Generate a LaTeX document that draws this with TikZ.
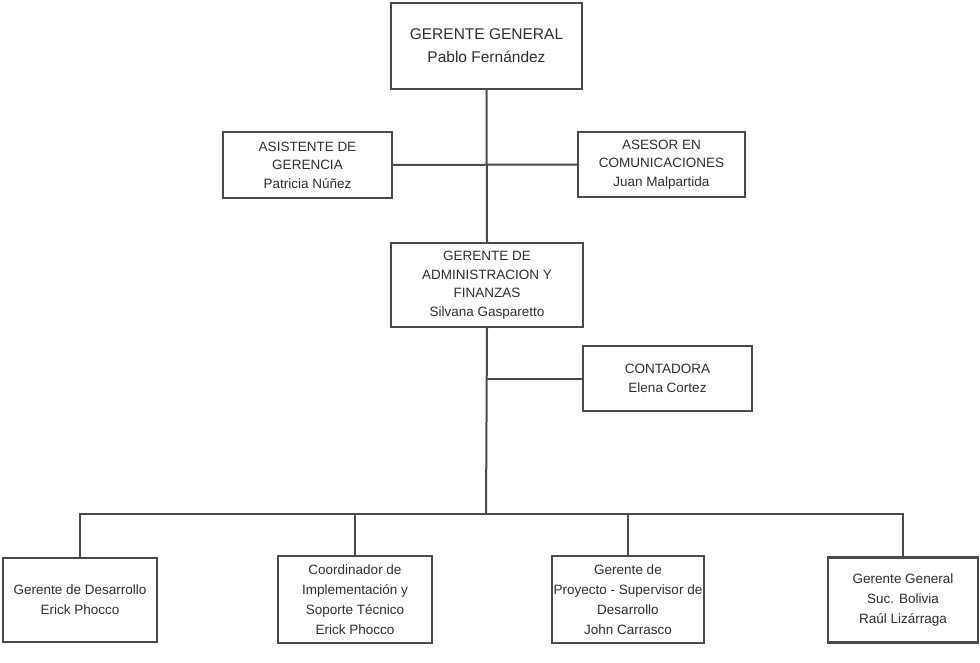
\documentclass[tikz,border=0pt]{standalone}
\usepackage{fontspec}
\setmainfont{Liberation Sans}
\definecolor{ink}{HTML}{2E2E2E}
\definecolor{edge}{HTML}{4A4A4A}
\begin{document}
\begin{tikzpicture}[x=1pt,y=-1pt,
  post/.style={draw=edge, line width=2.1pt, fill=white, rectangle, align=center,
    text=ink, inner sep=0pt, font=\fontsize{13.5}{18.5}\selectfont},
  lowpost/.style={post, font=\fontsize{13.5}{20}\selectfont},
  link/.style={draw=edge, line width=2pt}]
\useasboundingbox (0,0) rectangle (980,663);

% upper levels
\node[post, minimum width=191, minimum height=86, font=\fontsize{15.5}{23}\selectfont]
  (gg) at (486.5,46) {GERENTE GENERAL\\Pablo Fernández};
\node[post, minimum width=169, minimum height=66] (asis) at (307.5,165)
  {ASISTENTE DE\\GERENCIA\\Patricia Núñez};
\node[post, minimum width=167, minimum height=65] (ases) at (661.5,164.5)
  {ASESOR EN\\COMUNICACIONES\\Juan Malpartida};
\node[post, minimum width=192, minimum height=84] (adm) at (487,285)
  {GERENTE DE\\ADMINISTRACION Y\\FINANZAS\\Silvana Gasparetto};
\node[post, minimum width=169, minimum height=65] (cont) at (667.5,378.5)
  {CONTADORA\\Elena Cortez};

% lower level
\node[lowpost, minimum width=154, minimum height=84] (b1) at (80,600)
  {Gerente de Desarrollo\\Erick Phocco};
\node[lowpost, minimum width=154, minimum height=87] (b2) at (355,599.5)
  {Coordinador de\\Implementación y\\Soporte Técnico\\Erick Phocco};
\node[lowpost, minimum width=152, minimum height=87] (b3) at (628,599.5)
  {Gerente de\\Proyecto - Supervisor de\\Desarrollo\\John Carrasco};
\node[lowpost, minimum width=150, minimum height=85] (b4) at (903,600)
  {Gerente General\\Suc. Bolivia\\Raúl Lizárraga};

\coordinate (bus) at (486,514);

% connectors
\draw[link] (gg.south) -- (adm.north);
\draw[link] (asis.east) -- (ases.west);
\draw[link] (adm.south) -- (bus);
\draw[link] (cont.west) -- (cont.west -| adm.south);
\draw[link] (b1.north) -- (b1.north |- bus) -- (b4.north |- bus) -- (b4.north);
\draw[link] (b2.north) -- (b2.north |- bus);
\draw[link] (b3.north) -- (b3.north |- bus);
\end{tikzpicture}
\end{document}
